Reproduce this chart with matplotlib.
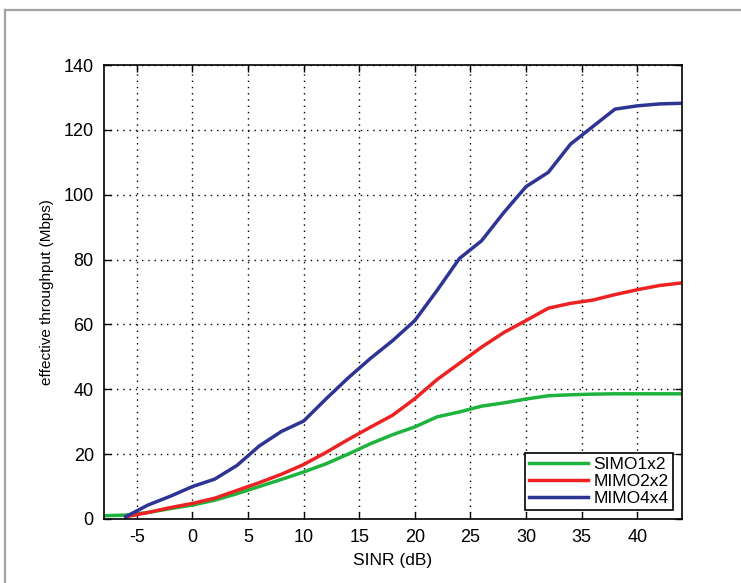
import matplotlib
matplotlib.use('Agg')
from matplotlib import pyplot as plt
from matplotlib.lines import Line2D
import numpy as np

plt.rcParams['font.family'] = ['Liberation Sans Narrow', 'Liberation Sans', 'DejaVu Sans']
plt.rcParams['axes.unicode_minus'] = False

# SINR (dB) grid
sinr_simo = [-8, -6, -4, -2, 0, 2, 4, 6, 8, 10, 12, 14, 16, 18, 20, 22, 24, 26, 28, 30, 32, 34, 36, 38, 40, 42, 44]
sinr_mimo = [-6, -4, -2, 0, 2, 4, 6, 8, 10, 12, 14, 16, 18, 20, 22, 24, 26, 28, 30, 32, 34, 36, 38, 40, 42, 44]

simo1x2 = [1.0, 1.2, 2.0, 3.2, 4.3, 5.8, 7.8, 10.0, 12.2, 14.5, 17.0, 20.0, 23.2, 26.0, 28.4, 31.5,
           33.0, 34.8, 35.8, 37.0, 38.0, 38.3, 38.5, 38.6, 38.6, 38.6, 38.6]
mimo2x2 = [0.7, 2.0, 3.5, 4.8, 6.4, 8.8, 11.2, 13.8, 16.8, 20.5, 24.5, 28.3, 32.0, 37.1, 43.0, 48.0,
           53.0, 57.5, 61.2, 65.0, 66.5, 67.5, 69.2, 70.7, 72.0, 72.8]
mimo4x4 = [0.7, 4.3, 7.0, 10.0, 12.3, 16.5, 22.5, 27.0, 30.2, 37.0, 43.5, 49.5, 55.0, 61.2, 70.5, 80.3,
           85.8, 94.5, 102.5, 106.9, 115.6, 121.0, 126.4, 127.4, 128.0, 128.2]

fig = plt.figure(figsize=(7.41, 5.83), dpi=100)
ax = fig.add_axes([0.1397, 0.1098, 0.9200 - 0.1397, 0.8885 - 0.1098])

ax.plot(sinr_simo, simo1x2, color='#1db33c', lw=2.5, label='SIMO1x2')
ax.plot(sinr_mimo, mimo2x2, color='#ee2222', lw=2.5, label='MIMO2x2')
ax.plot(sinr_mimo, mimo4x4, color='#2e3494', lw=2.5, label='MIMO4x4')

ax.set_xlim(-8, 44)
ax.set_ylim(0, 140)
ax.set_xticks(np.arange(-5, 41, 5))
ax.set_yticks(np.arange(0, 141, 20))
ax.grid(True, color='black', linestyle=(0, (1, 3.5)), linewidth=1.0)
ax.tick_params(direction='in', top=True, right=True, length=5, width=1, labelsize=13, pad=7)
for s in ax.spines.values():
    s.set_linewidth(1.2)

ax.set_xlabel('SINR (dB)', fontsize=12.5, labelpad=5)
ax.set_ylabel('effective throughput (Mbps)', fontsize=11, labelpad=7)

leg = ax.legend(loc='lower right', fontsize=12.5, frameon=True, fancybox=False,
                edgecolor='black', framealpha=1, handlelength=3.4, handletextpad=0.3,
                borderaxespad=0.5, labelspacing=0.1, borderpad=0.25)
leg.get_frame().set_linewidth(1.2)

# gray frame on left and top of the figure
fig.add_artist(Line2D([0.0065, 0.0065], [0.0, 0.983], color='#a0a4a8', lw=1.6))
fig.add_artist(Line2D([0.0065, 1.0], [0.983, 0.983], color='#a0a4a8', lw=1.6))

plt.savefig('out.png', dpi=100)
